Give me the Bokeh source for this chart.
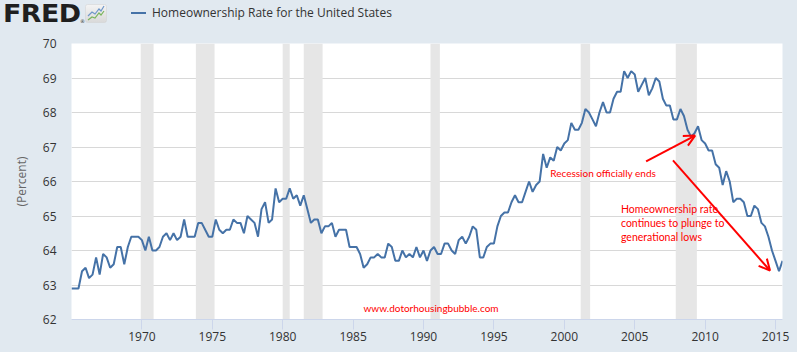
import pandas as pd
from bokeh.plotting import figure
from bokeh.layouts import column
from bokeh.models import (Range1d, FixedTicker, DatetimeTickFormatter, Label, Arrow,
                          OpenHead, Div)
from bokeh.embed import file_html
from bokeh.resources import INLINE

# ---------------- data ----------------
series_name = "Homeownership Rate for the United States"
first_quarter = "1965-01-01"
rate = [
    62.9, 62.9, 62.9, 63.4,  # 1965
    63.5, 63.2, 63.3, 63.8,  # 1966
    63.3, 63.9, 63.8, 63.5,  # 1967
    63.6, 64.1, 64.1, 63.6,  # 1968
    64.1, 64.4, 64.4, 64.4,  # 1969
    64.3, 64.0, 64.4, 64.0,  # 1970
    64.0, 64.1, 64.4, 64.5,  # 1971
    64.3, 64.5, 64.3, 64.4,  # 1972
    64.9, 64.4, 64.4, 64.4,  # 1973
    64.8, 64.8, 64.6, 64.4,  # 1974
    64.4, 64.9, 64.6, 64.5,  # 1975
    64.6, 64.6, 64.9, 64.8,  # 1976
    64.8, 64.5, 65.0, 64.9,  # 1977
    64.8, 64.4, 65.2, 65.4,  # 1978
    64.8, 64.9, 65.8, 65.4,  # 1979
    65.5, 65.5, 65.8, 65.5,  # 1980
    65.6, 65.3, 65.6, 65.2,  # 1981
    64.8, 64.9, 64.9, 64.5,  # 1982
    64.7, 64.7, 64.8, 64.4,  # 1983
    64.6, 64.6, 64.6, 64.1,  # 1984
    64.1, 64.1, 63.9, 63.5,  # 1985
    63.6, 63.8, 63.8, 63.9,  # 1986
    63.8, 63.8, 64.2, 64.1,  # 1987
    63.7, 63.7, 64.0, 63.8,  # 1988
    63.9, 63.8, 64.1, 63.8,  # 1989
    64.0, 63.7, 64.0, 64.1,  # 1990
    63.9, 63.9, 64.2, 64.2,  # 1991
    64.0, 63.9, 64.3, 64.4,  # 1992
    64.2, 64.4, 64.7, 64.6,  # 1993
    63.8, 63.8, 64.1, 64.2,  # 1994
    64.2, 64.7, 65.0, 65.1,  # 1995
    65.1, 65.4, 65.6, 65.4,  # 1996
    65.4, 65.7, 66.0, 65.7,  # 1997
    65.9, 66.0, 66.8, 66.4,  # 1998
    66.7, 66.6, 67.0, 66.9,  # 1999
    67.1, 67.2, 67.7, 67.5,  # 2000
    67.5, 67.7, 68.1, 68.0,  # 2001
    67.8, 67.6, 68.0, 68.3,  # 2002
    68.0, 68.0, 68.4, 68.6,  # 2003
    68.6, 69.2, 69.0, 69.2,  # 2004
    69.1, 68.6, 68.8, 69.0,  # 2005
    68.5, 68.7, 69.0, 68.9,  # 2006
    68.4, 68.2, 68.2, 67.8,  # 2007
    67.8, 68.1, 67.9, 67.5,  # 2008
    67.3, 67.4, 67.6, 67.2,  # 2009
    67.1, 66.9, 66.9, 66.5,  # 2010
    66.4, 65.9, 66.3, 66.0,  # 2011
    65.4, 65.5, 65.5, 65.4,  # 2012
    65.0, 65.0, 65.3, 65.2,  # 2013
    64.8, 64.7, 64.4, 64.0,  # 2014
    63.7, 63.4, 63.7,        # 2015
]
dates = pd.date_range(first_quarter, periods=len(rate), freq="QS")

recession_start = ["1969-12-01", "1973-11-01", "1980-01-01", "1981-07-01",
                   "1990-07-01", "2001-03-01", "2007-12-01"]
recession_end = ["1970-11-01", "1975-03-01", "1980-07-01", "1982-11-01",
                 "1991-03-01", "2001-11-01", "2009-06-01"]

x_start, x_end = "1965-01-01", "2015-07-01"
y_min, y_max = 62, 70
x_tick_years = list(range(1970, 2016, 5))
y_ticks = list(range(62, 71))

# annotation texts / anchor points
note1_text = "Recession officially ends"
note1_at = ("1999-01-01", 66.26)
arrow1 = (("2005-10-23", 66.58), ("2009-04-16", 67.33))
note2_text = "Homeownership rate\ncontinues to plunge to\ngenerational lows"
note2_at = ("2004-01-10", 64.79)
arrow2 = (("2007-09-20", 66.61), ("2014-08-11", 63.42))
watermark = "www.dotorhousingbubble.com"
watermark_at = ("1990-07-15", 62.33)

# ---------------- styling ----------------
BG = "#e1e9f0"
LINE = "#4572a7"
RED = "#ff0000"
FONT = "Open Sans"
NOTE_FONT = "Lato"
HEADER_H = 36

ts = pd.Timestamp

header_html = f"""
<div style="position:relative;width:797px;height:{HEADER_H}px;background:{BG};overflow:hidden;">
  <span style="position:absolute;left:3px;top:0px;display:inline-block;
               font-family:'DejaVu Sans';font-weight:bold;font-size:24px;line-height:normal;
               letter-spacing:-0.5px;color:#1f1f1f;transform:scaleX(1.12);transform-origin:left top;">FRED</span>
  <span style="position:absolute;left:80px;top:18px;font-family:'DejaVu Sans';font-size:5px;
               line-height:normal;color:#333;">&#174;</span>
  <svg style="position:absolute;left:85px;top:4px;" width="22" height="19" viewBox="0 0 22 19">
    <defs><linearGradient id="g" x1="0" y1="0" x2="0" y2="1">
      <stop offset="0" stop-color="#f4f4f4"/><stop offset="1" stop-color="#d9d9d9"/></linearGradient></defs>
    <rect x="0.5" y="0.5" width="21" height="18" rx="2" fill="url(#g)" stroke="#d0d0d0" stroke-width="0.5"/>
    <polyline points="3,12 7,8 10,10 14,5 16,7 19,2" fill="none" stroke="#6f97c9" stroke-width="1.2"/>
    <polyline points="3,16 7,13 10,14 14,9 16,11 19,7" fill="none" stroke="#7ab55c" stroke-width="1.2"/>
  </svg>
  <span style="position:absolute;left:131px;top:12px;width:15px;height:2px;background:{LINE};"></span>
  <span style="position:absolute;left:152px;top:4px;font-family:'{FONT}';font-size:12px;
               line-height:normal;color:#333333;white-space:nowrap;">{series_name}</span>
</div>
"""
header = Div(text=header_html, width=797, height=HEADER_H, margin=(0, 0, 0, 0),
             styles={"background-color": BG})

p = figure(width=797, height=352 - HEADER_H, output_backend="svg", toolbar_location=None,
           x_axis_type="datetime",
           x_range=Range1d(ts(x_start), ts(x_end)),
           y_range=Range1d(y_min, y_max),
           min_border_left=71, min_border_right=15,
           min_border_top=43 - HEADER_H, min_border_bottom=33, margin=(0, 0, 0, 0))
p.background_fill_color = "white"
p.border_fill_color = BG
p.outline_line_color = None

# recession shading
p.quad(left=[ts(d) for d in recession_start], right=[ts(d) for d in recession_end],
       bottom=y_min, top=y_max, fill_color="#e6e6e6", line_color=None)

# series
p.line(dates, rate, line_color=LINE, line_width=2)

# axes
xa = p.xaxis[0]
xa.ticker = FixedTicker(ticks=[ts(f"{y}-01-01").timestamp() * 1000 for y in x_tick_years])
xa.formatter = DatetimeTickFormatter(years="%Y", months="%Y", days="%Y", hours="%Y",
                                     minutes="%Y", seconds="%Y", milliseconds="%Y",
                                     microseconds="%Y", hourmin="%Y", minsec="%Y")
xa.axis_line_color = "#ccd6eb"
xa.major_tick_line_color = "#ccd6eb"
xa.major_tick_in = 0
xa.major_tick_out = 10
xa.minor_tick_line_color = None
xa.major_label_standoff = 2
xa.major_label_text_font = FONT
xa.major_label_text_font_size = "12px"
xa.major_label_text_color = "#333333"

ya = p.yaxis[0]
ya.ticker = FixedTicker(ticks=y_ticks)
ya.axis_line_color = None
ya.major_tick_line_color = None
ya.minor_tick_line_color = None
ya.major_tick_in = 0
ya.major_tick_out = 0
ya.major_label_standoff = 15
ya.major_label_text_font = FONT
ya.major_label_text_font_size = "12px"
ya.major_label_text_color = "#333333"
ya.axis_label = "(Percent)"
ya.axis_label_text_font = FONT
ya.axis_label_text_font_size = "12px"
ya.axis_label_text_font_style = "normal"
ya.axis_label_text_color = "#666666"
ya.axis_label_standoff = 10

p.xgrid.visible = False
p.ygrid.grid_line_color = "#d8d8d8"
p.ygrid.grid_line_width = 1

# red annotations
p.add_layout(Label(x=ts(note1_at[0]), y=note1_at[1], text=note1_text, text_font=NOTE_FONT,
                   text_font_size="10px", text_color=RED, text_baseline="middle"))
p.add_layout(Label(x=ts(note2_at[0]), y=note2_at[1], text=note2_text, text_font=NOTE_FONT,
                   text_font_size="10.5px", text_color=RED, text_baseline="middle",
                   text_line_height=1.15))
p.add_layout(Label(x=ts(watermark_at[0]), y=watermark_at[1], text=watermark,
                   text_font=NOTE_FONT, text_font_size="10px", text_color=RED,
                   text_align="center", text_baseline="middle"))
for (s, e) in (arrow1, arrow2):
    p.add_layout(Arrow(x_start=ts(s[0]), y_start=s[1], x_end=ts(e[0]), y_end=e[1],
                       line_color=RED, line_width=2,
                       end=OpenHead(size=11, line_color=RED, line_width=2)))

layout = column(header, p, spacing=0, margin=(0, 0, 0, 0),
                styles={"background-color": BG})
open("out.html", "w").write(file_html(layout, INLINE))
